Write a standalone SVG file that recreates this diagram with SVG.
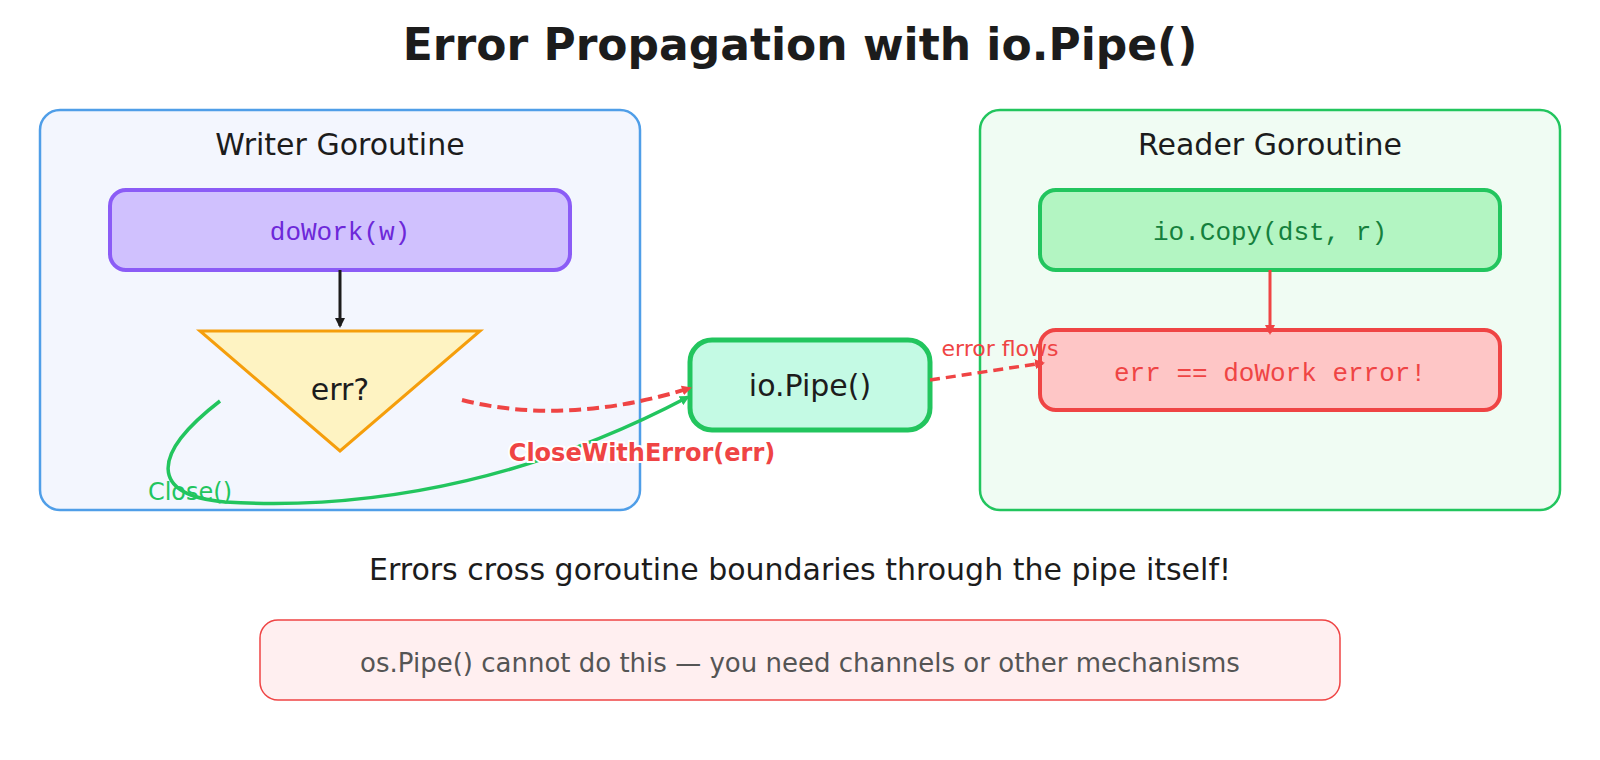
<svg xmlns="http://www.w3.org/2000/svg" width="1600" height="760" viewBox="0 0 1600 760">
<style>
text{font-family:"DejaVu Sans","Noto Sans",sans-serif}
.mono{font-family:"Liberation Mono","DejaVu Sans Mono",monospace}
</style>
<defs>
<marker id="ab" markerWidth="10" markerHeight="10" refX="8" refY="5" orient="auto" markerUnits="userSpaceOnUse"><path d="M0,0 L10,5 L0,10Z" fill="#1c1c1c"/></marker>
<marker id="ar" markerWidth="10" markerHeight="10" refX="8" refY="5" orient="auto" markerUnits="userSpaceOnUse"><path d="M0,0 L10,5 L0,10Z" fill="#ef4444"/></marker>
<marker id="ag" markerWidth="10" markerHeight="10" refX="8" refY="5" orient="auto" markerUnits="userSpaceOnUse"><path d="M0,0 L10,5 L0,10Z" fill="#22c55e"/></marker>
</defs>
<rect width="1600" height="760" fill="#fff"/>
<text x="800" y="60" text-anchor="middle" font-size="44" font-weight="bold" fill="#1c1c1c">Error Propagation with io.Pipe()</text>
<g id="writer"><rect x="40" y="110" width="600" height="400" rx="20" fill="#f3f6fe" stroke="#4f9ee8" stroke-width="2.5"/><text x="340" y="155" text-anchor="middle" font-size="30" fill="#1c1c1c">Writer Goroutine</text></g>
<g id="reader"><rect x="980" y="110" width="580" height="400" rx="20" fill="#f0fcf3" stroke="#22c55e" stroke-width="2.5"/><text x="1270" y="155" text-anchor="middle" font-size="30" fill="#1c1c1c">Reader Goroutine</text></g>
<g id="dowork"><rect x="110" y="190" width="460" height="80" rx="16" fill="#d0c1fe" stroke="#8b5cf6" stroke-width="4"/><text class="mono" x="340" y="240" text-anchor="middle" font-size="26" fill="#6d28d9">doWork(w)</text></g>
<g id="err"><polygon points="200,331 480,331 340,451" fill="#fef3c2" stroke="#f59e0b" stroke-width="3"/><text x="340" y="400" text-anchor="middle" font-size="30" fill="#1c1c1c">err?</text></g>
<g id="pipe"><rect x="690" y="340" width="240" height="90" rx="22" fill="#c4faE4" stroke="#22c55e" stroke-width="5"/><text x="810" y="396" text-anchor="middle" font-size="30" fill="#1c1c1c">io.Pipe()</text></g>
<g id="copy"><rect x="1040" y="190" width="460" height="80" rx="16" fill="#b3f5c2" stroke="#22c55e" stroke-width="4"/><text class="mono" x="1270" y="240" text-anchor="middle" font-size="26" fill="#15803d">io.Copy(dst, r)</text></g>
<g id="errbox"><rect x="1040" y="330" width="460" height="80" rx="16" fill="#fec6c6" stroke="#ef4444" stroke-width="4"/><text class="mono" x="1270" y="381" text-anchor="middle" font-size="26" fill="#ef4444">err == doWork error!</text></g>
<g id="connectors" fill="none">
<path d="M340,270 V326" stroke="#1c1c1c" stroke-width="3" marker-end="url(#ab)"/>
<path d="M1270,270 V333" stroke="#ef4444" stroke-width="3" marker-end="url(#ar)"/>
<path d="M462,400 C540,420 620,410 690,388" stroke="#ef4444" stroke-width="4" stroke-dasharray="12,6" marker-end="url(#ar)"/>
<path d="M220,401 C150,455 150,495 225,502 C390,512 550,470 688,397" stroke="#22c55e" stroke-width="3.5" marker-end="url(#ag)"/>
<path d="M930,380 L1043,363" stroke="#ef4444" stroke-width="3.5" stroke-dasharray="10,6" marker-end="url(#ar)"/>
</g>
<text x="642" y="461" text-anchor="middle" font-size="24" font-weight="bold" fill="#ef4444" stroke="#fff" stroke-width="4" paint-order="stroke">CloseWithError(err)</text>
<text x="190" y="500" text-anchor="middle" font-size="24" fill="#22c55e">Close()</text>
<text x="1000" y="356" text-anchor="middle" font-size="22" fill="#ef4444">error flows</text>
<text x="800" y="580" text-anchor="middle" font-size="30" fill="#1c1c1c">Errors cross goroutine boundaries through the pipe itself!</text>
<g id="note"><rect x="260" y="620" width="1080" height="80" rx="18" fill="#ffeff0" stroke="#ef4444" stroke-width="1.5"/><text x="800" y="672" text-anchor="middle" font-size="26" fill="#555">os.Pipe() cannot do this — you need channels or other mechanisms</text></g>
</svg>
